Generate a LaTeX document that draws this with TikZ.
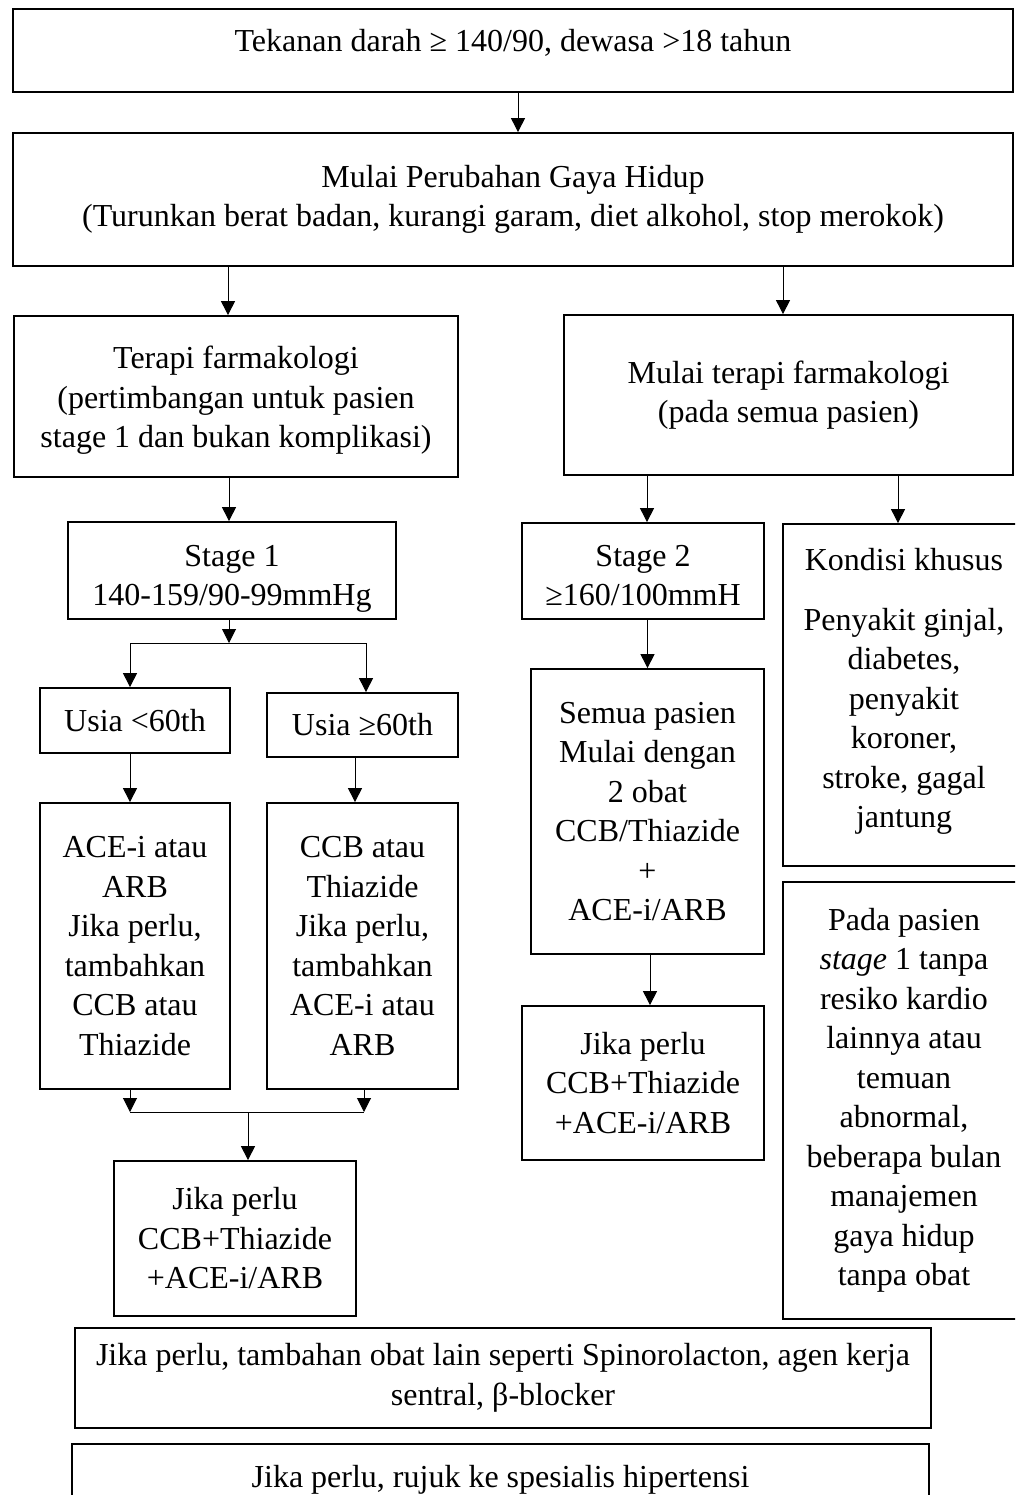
\documentclass[tikz,border=0pt]{standalone}
\usepackage{fontspec}
\setmainfont{Liberation Serif}
\usetikzlibrary{arrows.meta, positioning}

\tikzset{
  fbox/.style = {draw, line width = 1.8pt, align = center, inner sep = 0pt,
                 font = \fontsize{32}{39.5}\selectfont},
  arr/.style = {line width = 1pt, -{Triangle[width = 14pt, length = 14pt]}},
  conn/.style = {line width = 1pt}
}

\begin{document}
\begin{tikzpicture}[x = 1pt, y = -1pt]
\useasboundingbox (0,0) rectangle (1015,1495);
\clip (0,0) rectangle (1015,1495);

% top
\node[fbox, minimum width = 1000pt, minimum height = 83pt, text depth = 21pt] (tekanan) at (513,50.5) {Tekanan darah ≥ 140/90, dewasa >18 tahun};
\node[fbox, minimum width = 1000pt, minimum height = 133pt] (hidup) at (513,199.5) {Mulai Perubahan Gaya Hidup\\(Turunkan berat badan, kurangi garam, diet alkohol, stop merokok)};
\draw[arr] ([xshift = 5pt]tekanan.south) -- ([xshift = 5pt]hidup.north);

% two branches
\node[fbox, minimum width = 444pt, minimum height = 161pt, text height = 109.5pt] (farmL) at (236,396.5) {Terapi farmakologi\\(pertimbangan untuk pasien\\stage 1 dan bukan komplikasi)};
\node[fbox, minimum width = 449pt, minimum height = 160pt] (farmR) at (788.5,395) {Mulai terapi farmakologi\\(pada semua pasien)};
\draw[arr] ([xshift = -8pt]farmL.north |- hidup.south) -- ([xshift = -8pt]farmL.north);
\draw[arr] ([xshift = -5.5pt]farmR.north |- hidup.south) -- ([xshift = -5.5pt]farmR.north);

% stage 1
\node[fbox, minimum width = 328pt, minimum height = 97pt, text height = 77pt] (stage1) at (232,570.5) {Stage 1\\140-159/90-99mmHg};
\draw[arr] ([xshift = -3pt]stage1.north |- farmL.south) -- ([xshift = -3pt]stage1.north);
\coordinate (split1) at (229,643);
\draw[arr] ([xshift = -3pt]stage1.south) -- (split1);

\node[fbox, minimum width = 190pt, minimum height = 65pt] (usia1) at (135,720.5) {Usia <60th};
\node[fbox, minimum width = 191pt, minimum height = 64pt] (usia2) at (362.5,725) {Usia ≥60th};
\draw[arr] (split1) -| ([xshift = -5pt]usia1.north);
\draw[arr] (split1) -| ([xshift = 3.5pt]usia2.north);

\node[fbox, minimum width = 190pt, minimum height = 286pt] (aceL) at (135,946) {ACE-i atau\\ARB\\Jika perlu,\\tambahkan\\CCB atau\\Thiazide};
\node[fbox, minimum width = 191pt, minimum height = 286pt] (ccbL) at (362.5,946) {CCB atau\\Thiazide\\Jika perlu,\\tambahkan\\ACE-i atau\\ARB};
\draw[arr] ([xshift = -5pt]usia1.south) -- ([xshift = -5pt]aceL.north);
\draw[arr] ([xshift = -7.5pt]usia2.south) -- ([xshift = -7.5pt]ccbL.north);

\coordinate (merge1) at (248,1112);
\draw[arr] ([xshift = -5pt]aceL.south) -- ([xshift = -5pt]aceL.south |- merge1);
\draw[arr] ([xshift = 1.5pt]ccbL.south) -- ([xshift = 1.5pt]ccbL.south |- merge1);
\draw[conn] ([xshift = -5pt]aceL.south |- merge1) -- ([xshift = 1.5pt]ccbL.south |- merge1);

\node[fbox, minimum width = 242pt, minimum height = 155pt] (jikaL) at (235,1238.5) {Jika perlu\\CCB+Thiazide\\+ACE-i/ARB};
\draw[arr] (merge1) -- ([xshift = 13pt]jikaL.north);

% stage 2
\node[fbox, minimum width = 242pt, minimum height = 96pt, text height = 70pt] (stage2) at (643,571) {Stage 2\\≥160/100mmH};
\node[fbox, minimum width = 242pt, minimum height = 342pt, text depth = 14pt] (kondisi) at (904,695) {Kondisi khusus\\[20pt]Penyakit ginjal,\\diabetes,\\penyakit\\koroner,\\stroke, gagal\\jantung};
\draw[arr] ([xshift = 4pt]stage2.north |- farmR.south) -- ([xshift = 4pt]stage2.north);
\draw[arr] ([xshift = -6pt]kondisi.north |- farmR.south) -- ([xshift = -6pt]kondisi.north);

\node[fbox, minimum width = 233pt, minimum height = 285pt] (semua) at (647.5,811.5) {Semua pasien\\Mulai dengan\\2 obat\\CCB/Thiazide\\+\\ACE-i/ARB};
\draw[arr] (stage2.south -| semua.north) -- (semua.north);

\node[fbox, minimum width = 242pt, minimum height = 154pt] (jikaR) at (643,1083) {Jika perlu\\CCB+Thiazide\\+ACE-i/ARB};
\draw[arr] ([xshift = 7pt]jikaR.north |- semua.south) -- ([xshift = 7pt]jikaR.north);

\node[fbox, minimum width = 242pt, minimum height = 437pt] (pada) at (904,1100.5) {Pada pasien\\\textit{stage} 1 tanpa\\resiko kardio\\lainnya atau\\temuan\\abnormal,\\beberapa bulan\\manajemen\\gaya hidup\\tanpa obat};

% bottom
\node[fbox, minimum width = 856pt, minimum height = 100pt] (lain) at (503,1378) {Jika perlu, tambahan obat lain seperti Spinorolacton, agen kerja\\sentral, β-blocker};
\node[fbox, minimum width = 857pt, minimum height = 71pt] (rujuk) at (500.5,1479.5) {Jika perlu, rujuk ke spesialis hipertensi};
\end{tikzpicture}
\end{document}
